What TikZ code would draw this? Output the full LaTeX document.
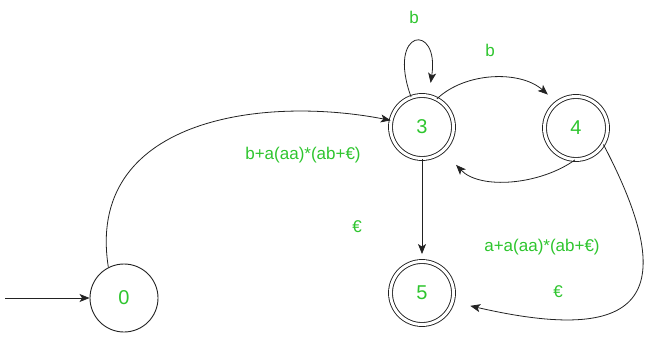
\documentclass[tikz,border=0pt]{standalone}
\usepackage{fontspec}
\setmainfont{Liberation Sans}
\usetikzlibrary{arrows.meta}
\definecolor{ink}{HTML}{222222}
\definecolor{lbl}{HTML}{2EC52E}
\tikzset{
  every node/.style={font=\fontsize{17}{20}\selectfont,text=lbl},
  arr/.style={-{Stealth[length=10pt,width=8pt,inset=2.5pt]},line width=.8pt,draw=ink},
  state/.style={circle,draw=ink,line width=.9pt,minimum size=68pt,inner sep=0,font=\fontsize{20}{24}\selectfont},
  accept/.style={state,double,double distance=3pt,minimum size=63pt},
  lab/.style={inner sep=0}
}

\begin{document}
\begin{tikzpicture}[x=1pt,y=-1pt]
\path[use as bounding box] (0,0) rectangle (647,337);
% states
\node[state] (s0) at (124,298) {0};
\node[accept] (s3) at (422,127) {3};
\node[accept] (s4) at (576,128) {4};
\node[accept] (s5) at (422,293) {5};
\coordinate (start) at (5,298);
% transitions
\draw[arr] (start) -- (s0);
\draw[arr] (s0.117) .. controls (85,120) and (260,95) .. (s3.168);
\draw[arr,shorten >=13pt] (s3.110) .. controls (386,28) and (440,22) .. (s3.78);
\draw[arr,shorten >=12pt] (s3.62) .. controls (465,72) and (520,70) .. (s4.127);
\draw[arr,shorten >=19pt] (s4.268) .. controls (540,185) and (480,190) .. (s3.-49);
\draw[arr,shorten >=7pt] (s3.south) -- (s5.north);
\draw[arr,shorten >=18pt] (s4.-31) .. controls (685,300) and (640,345) .. (s5.-16);
% labels
\node[lab] (lloop) at (414,17) {b};
\node[lab] (l34) at (490,50) {b};
\node[lab] (l03) at (303,155) {b+a(aa)*(ab+€)};
\node[lab] (l35) at (357,227) {€};
\node[lab] (l45) at (542,247) {a+a(aa)*(ab+€)};
\node[lab] (l43) at (558,292) {€};
\end{tikzpicture}
\end{document}
